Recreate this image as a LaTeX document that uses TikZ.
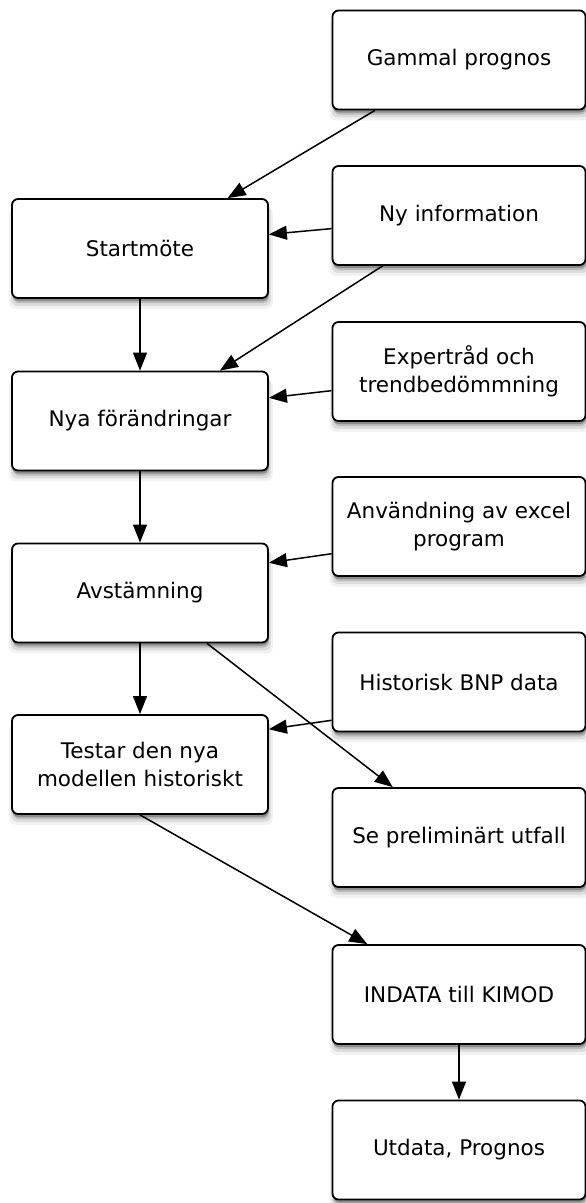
\documentclass[tikz,border=0pt]{standalone}
\usepackage{fontspec}
\setmainfont{DejaVu Sans}
\usetikzlibrary{arrows.meta,shadows,calc}
\begin{document}
\begin{tikzpicture}[x=1pt,y=-1pt,
  box/.style={draw, line width=1.8pt, rounded corners=6pt, fill=white,
    minimum height=99pt, align=center, inner sep=2pt,
    font=\fontsize{21.5}{28}\selectfont,
    drop shadow={shadow xshift=1pt, shadow yshift=-9pt, shadow scale=1.03, opacity=0.05, fill=black},
    drop shadow={shadow xshift=1pt, shadow yshift=-7pt, shadow scale=1.015, opacity=0.09, fill=black},
    drop shadow={shadow xshift=1pt, shadow yshift=-5pt, opacity=0.15, fill=black},
    drop shadow={shadow xshift=0.5pt, shadow yshift=-3pt, opacity=0.25, fill=black}},
  lbox/.style={box, minimum width=256pt},
  rbox/.style={box, minimum width=253pt},
  conn/.style={line width=1.5pt, -{Triangle[length=18pt,width=14pt]}}
]
\useasboundingbox (0,0) rectangle (586,1203);

% left column
\node[lbox] (start) at (140,248.5) {Startmöte};
\node[lbox] (nya)   at (140,421)   {Nya förändringar};
\node[lbox] (avst)  at (140,593)   {Avstämning};
\node[lbox] (test)  at (140,764.5) {Testar den nya\\modellen historiskt};

% right column
\node[rbox] (gam)  at (459,60)     {Gammal prognos};
\node[rbox] (ny)   at (459,215.5)  {Ny information};
\node[rbox] (exp)  at (459,371.5)  {Expertråd och\\trendbedömmning};
\node[rbox] (anv)  at (459,526.5)  {Användning av excel\\program};
\node[rbox] (hist) at (459,682)    {Historisk BNP data};
\node[rbox] (se)   at (459,837.5)  {Se preliminärt utfall};
\node[rbox] (ind)  at (459,994.5)  {INDATA till KIMOD};
\node[rbox] (ut)   at (459,1150)   {Utdata, Prognos};

% connectors
\draw[conn] ($(gam.south west)!0.17!(gam.south east)$) -- ($(start.north west)!0.84!(start.north east)$);
\draw[conn] ($(ny.north west)!0.63!(ny.south west)$) -- ($(start.north east)!0.36!(start.south east)$);
\draw[conn] ($(ny.south west)!0.2!(ny.south east)$) -- ($(nya.north west)!0.81!(nya.north east)$);
\draw[conn] (start.south) -- (nya.north);
\draw[conn] ($(exp.north west)!0.69!(exp.south west)$) -- ($(nya.north east)!0.27!(nya.south east)$);
\draw[conn] (nya.south) -- (avst.north);
\draw[conn] ($(anv.north west)!0.77!(anv.south west)$) -- ($(avst.north east)!0.2!(avst.south east)$);
\draw[conn] (avst.south) -- (test.north);
\draw[conn] ($(hist.north west)!0.88!(hist.south west)$) -- ($(test.north east)!0.15!(test.south east)$);
\draw[conn] ($(avst.south west)!0.76!(avst.south east)$) -- ($(se.north west)!0.24!(se.north east)$);
\draw[conn] (test.south) -- ($(ind.north west)!0.14!(ind.north east)$);
\draw[conn] (ind.south) -- (ut.north);
\end{tikzpicture}
\end{document}
